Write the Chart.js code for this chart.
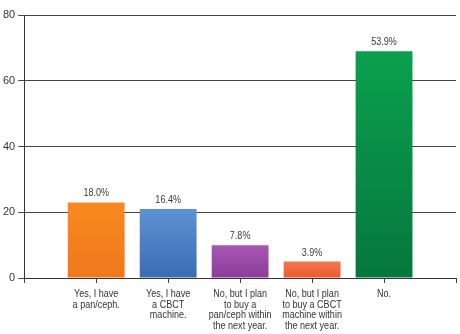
<!DOCTYPE html>
<html>
<head>
<meta charset="utf-8">
<script src="https://cdn.jsdelivr.net/npm/chart.js@4.4.1/dist/chart.umd.min.js"></script>
<style>
  html, body { margin: 0; padding: 0; background: #ffffff; }
  #wrap { width: 460px; height: 334px; }
</style>
</head>
<body>
<div id="wrap"><canvas id="c" width="460" height="334"></canvas></div>
<script>
// Survey answers (bars are respondent counts; labels show the share of all respondents)
const categories = [
  ['Yes, I have', 'a pan/ceph.'],
  ['Yes, I have', 'a CBCT', 'machine.'],
  ['No, but I plan', 'to buy a', 'pan/ceph within', 'the next year.'],
  ['No, but I plan', 'to buy a CBCT', 'machine within', 'the next year.'],
  ['No.']
];
const counts = [23, 21, 10, 5, 69];
const yTicks = [0, 20, 40, 60, 80];
const topColors = ['#f8891f', '#5d92d3', '#a657b2', '#f57652', '#0aa04e'];
const bottomColors = ['#ef781c', '#3a6cb3', '#8c3d9c', '#ec5a2d', '#06773d'];

const total = counts.reduce((a, b) => a + b, 0);
const pctLabels = counts.map(c => (c / total * 100).toFixed(1) + '%');

// One empty slot on each side so bars sit on ticks 1..5 of a 0..6 axis
const labels = [''].concat(categories, ['']);
const data = [null].concat(counts, [null]);

const FONT = "'Liberation Sans', Arial, sans-serif";
const SQUEEZE = 0.82;   // condensed look for the text

function gradientFor(ctx) {
  const chart = ctx.chart;
  const i = ctx.dataIndex - 1;
  if (i < 0 || i >= counts.length || !chart.chartArea) return '#999';
  const y = chart.scales.y;
  const g = chart.ctx.createLinearGradient(0, y.getPixelForValue(counts[i]), 0, y.getPixelForValue(0));
  g.addColorStop(0, topColors[i]);
  g.addColorStop(1, bottomColors[i]);
  return g;
}

function squeezedText(ctx, text, x, y) {
  ctx.save();
  ctx.translate(x, y);
  ctx.scale(SQUEEZE, 1);
  ctx.fillText(text, 0, 0);
  ctx.restore();
}

// Percent labels above the bars and condensed category labels under the axis
const textLayer = {
  id: 'textLayer',
  afterDraw(chart) {
    const ctx = chart.ctx;
    const meta = chart.getDatasetMeta(0);
    const xs = chart.scales.x;
    const axisY = chart.scales.y.getPixelForValue(0);
    ctx.save();
    ctx.font = "11px " + FONT;
    ctx.fillStyle = '#3a3a3a';
    ctx.textAlign = 'center';
    ctx.textBaseline = 'alphabetic';
    counts.forEach((c, i) => {
      const el = meta.data[i + 1];
      squeezedText(ctx, pctLabels[i], el.x, el.y - 6);
    });
    ctx.fillStyle = '#333';
    categories.forEach((lines, i) => {
      const x = xs.getPixelForTick(i + 1);
      lines.forEach((line, j) => {
        squeezedText(ctx, line, x, axisY + 19 + j * 10.5);
      });
    });
    ctx.restore();
  }
};

new Chart(document.getElementById('c'), {
  type: 'bar',
  data: {
    labels: labels,
    datasets: [{
      data: data,
      backgroundColor: gradientFor,
      borderWidth: 0,
      barPercentage: 0.79,
      categoryPercentage: 1.0
    }]
  },
  options: {
    responsive: false,
    animation: false,
    devicePixelRatio: 1,
    layout: { padding: { top: 15, right: 4, left: 0, bottom: 51 } },
    plugins: { legend: { display: false }, tooltip: { enabled: false } },
    scales: {
      x: {
        offset: false,
        grid: {
          offset: false,
          drawOnChartArea: false,
          drawTicks: true,
          tickLength: 5,
          color: '#444'
        },
        border: { color: '#333', width: 1 },
        ticks: { display: false, autoSkip: false }
      },
      y: {
        min: 0,
        max: 80,
        afterBuildTicks(axis) { axis.ticks = yTicks.map(v => ({ value: v })); },
        grid: { color: '#444', lineWidth: 1, tickLength: 6 },
        border: { color: '#333', width: 1 },
        ticks: {
          color: '#333',
          padding: 3,
          font: { family: FONT, size: 11 }
        }
      }
    }
  },
  plugins: [textLayer]
});
</script>
</body>
</html>
